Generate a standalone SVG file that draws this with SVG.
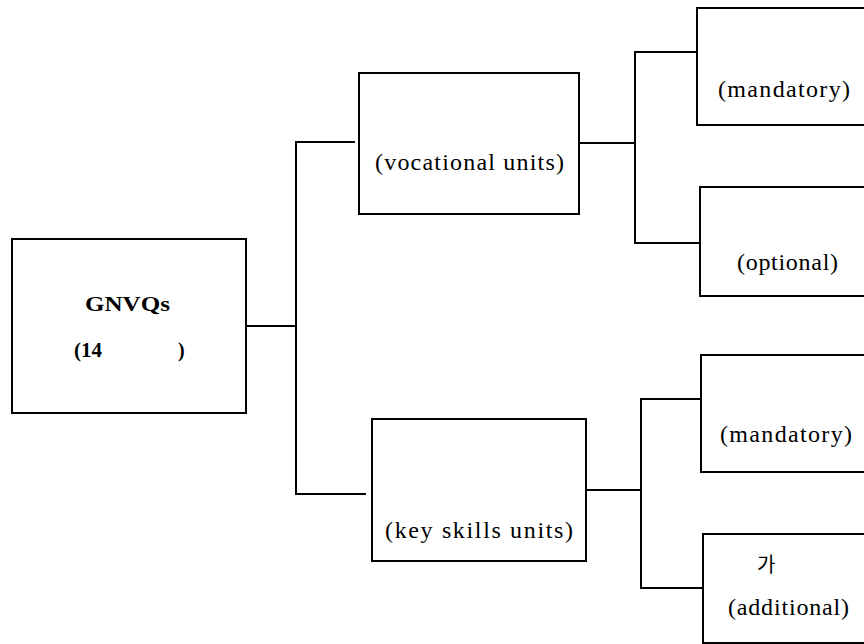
<svg xmlns="http://www.w3.org/2000/svg" width="864" height="644" viewBox="0 0 864 644">
  <style>
    .box { fill: #ffffff; stroke: #000000; stroke-width: 2; }
    .wire { fill: none; stroke: #000000; stroke-width: 2; }
    .lbl { font-family: "Liberation Serif", "Times New Roman", serif; font-size: 24px; fill: #000000; }
    .bold { font-weight: bold; font-size: 20px; }
    .ko { font-family: "Noto Sans CJK KR", "Liberation Sans", sans-serif; font-size: 20px; fill: #000000; }
  </style>

  <!-- connectors -->
  <g id="connectors">
    <polyline class="wire" points="246,326 296,326"/>
    <polyline class="wire" points="355,142 296,142 296,494 366,494"/>
    <polyline class="wire" points="579,143 635,143"/>
    <polyline class="wire" points="697,52 635,52 635,243 700,243"/>
    <polyline class="wire" points="586,490 641,490"/>
    <polyline class="wire" points="701,399 641,399 641,588 703,588"/>
  </g>

  <g id="gnvqs">
    <rect class="box" x="12" y="239" width="234" height="174"/>
    <text class="lbl bold" x="85" y="311" textLength="85" lengthAdjust="spacingAndGlyphs">GNVQs</text>
    <text class="lbl bold" x="74" y="357" textLength="28" lengthAdjust="spacingAndGlyphs">(14</text>
    <text class="lbl bold" x="178" y="357">)</text>
  </g>

  <g id="vocational">
    <rect class="box" x="359" y="73" width="220" height="141"/>
    <text class="lbl" x="375" y="170" textLength="189" lengthAdjust="spacing">(vocational units)</text>
  </g>

  <g id="keyskills">
    <rect class="box" x="372" y="419" width="214" height="142"/>
    <text class="lbl" x="385" y="538" textLength="188" lengthAdjust="spacing">(key skills units)</text>
  </g>

  <g id="voc-mandatory">
    <rect class="box" x="697" y="8" width="180" height="117"/>
    <text class="lbl" x="718" y="97" textLength="132" lengthAdjust="spacing">(mandatory)</text>
  </g>

  <g id="voc-optional">
    <rect class="box" x="700" y="187" width="180" height="109"/>
    <text class="lbl" x="737" y="270" textLength="101" lengthAdjust="spacing">(optional)</text>
  </g>

  <g id="key-mandatory">
    <rect class="box" x="701" y="355" width="180" height="117"/>
    <text class="lbl" x="720" y="442" textLength="132" lengthAdjust="spacing">(mandatory)</text>
  </g>

  <g id="key-additional">
    <rect class="box" x="703" y="534" width="180" height="109"/>
    <text class="ko" x="757" y="572" font-size="21">가</text>
    <text class="lbl" x="728" y="615" textLength="121" lengthAdjust="spacing">(additional)</text>
  </g>
</svg>
